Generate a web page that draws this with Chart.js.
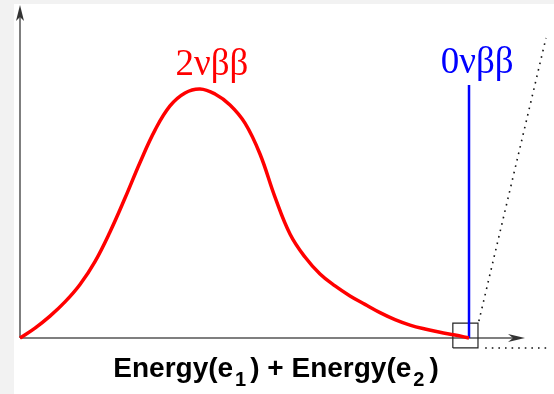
<!DOCTYPE html>
<html>
<head>
<meta charset="utf-8">
<script src="https://cdn.jsdelivr.net/npm/chart.js@4.4.1/dist/chart.umd.min.js"></script>
<style>
  html, body { margin: 0; padding: 0; background: #f2f2f2; }
  #wrap { width: 554px; height: 394px; }
</style>
</head>
<body>
<div id="wrap"><canvas id="spectrum" width="554" height="394"></canvas></div>
<script>
// Summed electron energy, in units of the Q-value
const energy2nu = [0, 0.0334, 0.0668, 0.1002, 0.1336, 0.1670, 0.2004, 0.2339, 0.2673, 0.3007,
                   0.3341, 0.3675, 0.4009, 0.4343, 0.4677, 0.5011, 0.5345, 0.5679, 0.6013, 0.6347,
                   0.6682, 0.7016, 0.7350, 0.7684, 0.8018, 0.8352, 0.8686, 0.9020, 0.9354, 0.9688,
                   1.0];
// Relative rate of the two-neutrino mode (peak = 1)
const counts2nu = [0, 0.040, 0.088, 0.145, 0.215, 0.307, 0.426, 0.562, 0.705, 0.835,
                   0.932, 0.984, 1.0, 0.980, 0.936, 0.863, 0.739, 0.566, 0.418, 0.325,
                   0.257, 0.209, 0.169, 0.135, 0.102, 0.074, 0.052, 0.036, 0.023, 0.012,
                   0];
// Neutrinoless mode: a single line at the Q-value
const energy0nu = [1.0, 1.0];
const counts0nu = [0, 1.016];
// End-point window and the guide lines that open out from it
const windowEnergy = [0.964, 1.020];
const windowCounts = [-0.040, 0.060];
const guideUpperEnergy = [1.022, 1.1715];
const guideUpperCounts = [0.068, 1.205];
const guideLowerEnergy = [1.036, 1.176];
const guideLowerCounts = [-0.040, -0.040];
// Labels
const seriesLabels = ['2νββ', '0νββ'];
const labelEnergy = [0.4276, 1.018];
const labelCounts = [1.056, 1.064];
const axisTitleParts = ['Energy(e', '1', ') + Energy(e', '2', ')'];

const pts = (xs, ys) => xs.map((x, i) => ({ x: x, y: ys[i] }));
const rect = (xs, ys) => [
  { x: xs[0], y: ys[0] }, { x: xs[1], y: ys[0] },
  { x: xs[1], y: ys[1] }, { x: xs[0], y: ys[1] }, { x: xs[0], y: ys[0] }
];

const frame = {
  id: 'frame',
  beforeDraw(chart) {
    const c = chart.ctx;
    c.save();
    c.fillStyle = '#f2f2f2';
    c.fillRect(0, 0, chart.width, chart.height);
    c.fillStyle = '#ffffff';
    c.fillRect(14, 4, chart.width - 14, chart.height - 4);
    c.restore();
  },
  beforeDatasetsDraw(chart) {
    const c = chart.ctx, a = chart.chartArea;
    const x0 = chart.scales.x.getPixelForValue(0);
    const y0 = chart.scales.y.getPixelForValue(0);
    c.save();
    c.strokeStyle = '#555555';
    c.fillStyle = '#333333';
    c.lineWidth = 1.5;
    c.beginPath();
    c.moveTo(x0, y0); c.lineTo(a.right - 4, y0);
    c.moveTo(x0, y0); c.lineTo(x0, a.top + 4);
    c.stroke();
    // arrow heads
    c.beginPath();
    c.moveTo(a.right, y0); c.lineTo(a.right - 17, y0 - 4);
    c.lineTo(a.right - 12, y0); c.lineTo(a.right - 17, y0 + 4); c.closePath();
    c.fill();
    c.beginPath();
    c.moveTo(x0, a.top); c.lineTo(x0 - 4, a.top + 16);
    c.lineTo(x0, a.top + 12); c.lineTo(x0 + 4, a.top + 16); c.closePath();
    c.fill();
    c.restore();
  },
  afterDraw(chart) {
    const c = chart.ctx, sx = chart.scales.x, sy = chart.scales.y;
    c.save();
    c.textAlign = 'center';
    c.textBaseline = 'alphabetic';
    c.font = '37px "Liberation Serif", "DejaVu Serif", serif';
    const colors = ['#ff0000', '#0000ff'];
    seriesLabels.forEach((t, i) => {
      c.fillStyle = colors[i];
      c.fillText(t, sx.getPixelForValue(labelEnergy[i]), sy.getPixelForValue(labelCounts[i]));
    });
    // axis title with subscripts
    const big = 'bold 28px "Liberation Sans", Arial, sans-serif';
    const small = 'bold 20px "Liberation Sans", Arial, sans-serif';
    const widths = axisTitleParts.map((t, i) => {
      c.font = (i % 2 === 1) ? small : big;
      return c.measureText(t).width;
    });
    const spacing = [0, 2, 4, 2, 5];
    let total = 0;
    widths.forEach((w, i) => { total += w + spacing[i]; });
    let x = 276 - total / 2;
    const base = 377;
    c.textAlign = 'left';
    c.fillStyle = '#000000';
    axisTitleParts.forEach((t, i) => {
      x += spacing[i];
      c.font = (i % 2 === 1) ? small : big;
      c.fillText(t, x, (i % 2 === 1) ? base + 9 : base);
      x += widths[i];
    });
    c.restore();
  }
};

new Chart(document.getElementById('spectrum'), {
  type: 'scatter',
  data: {
    datasets: [
      {
        data: pts(energy2nu, counts2nu),
        showLine: true, borderColor: '#ff0000', borderWidth: 3.5,
        pointRadius: 0, tension: 0.4, clip: false
      },
      {
        data: pts(energy0nu, counts0nu),
        showLine: true, borderColor: '#0000ff', borderWidth: 2.5,
        pointRadius: 0, clip: false
      },
      {
        data: rect(windowEnergy, windowCounts),
        showLine: true, borderColor: '#222222', borderWidth: 1.2,
        pointRadius: 0, clip: false
      },
      {
        data: pts(guideUpperEnergy, guideUpperCounts),
        showLine: true, borderColor: '#111111', borderWidth: 1.6,
        borderDash: [1.6, 5], pointRadius: 0, clip: false
      },
      {
        data: pts(guideLowerEnergy, guideLowerCounts),
        showLine: true, borderColor: '#111111', borderWidth: 1.6,
        borderDash: [1.6, 5], pointRadius: 0, clip: false
      }
    ]
  },
  plugins: [frame],
  options: {
    responsive: false,
    devicePixelRatio: 1,
    animation: false,
    layout: { padding: { left: 20, right: 29, top: 5, bottom: 56 } },
    plugins: { legend: { display: false }, tooltip: { enabled: false } },
    scales: {
      x: { type: 'linear', display: false, min: 0, max: 1.1247 },
      y: { type: 'linear', display: false, min: 0, max: 1.3373 }
    }
  }
});
</script>
</body>
</html>
